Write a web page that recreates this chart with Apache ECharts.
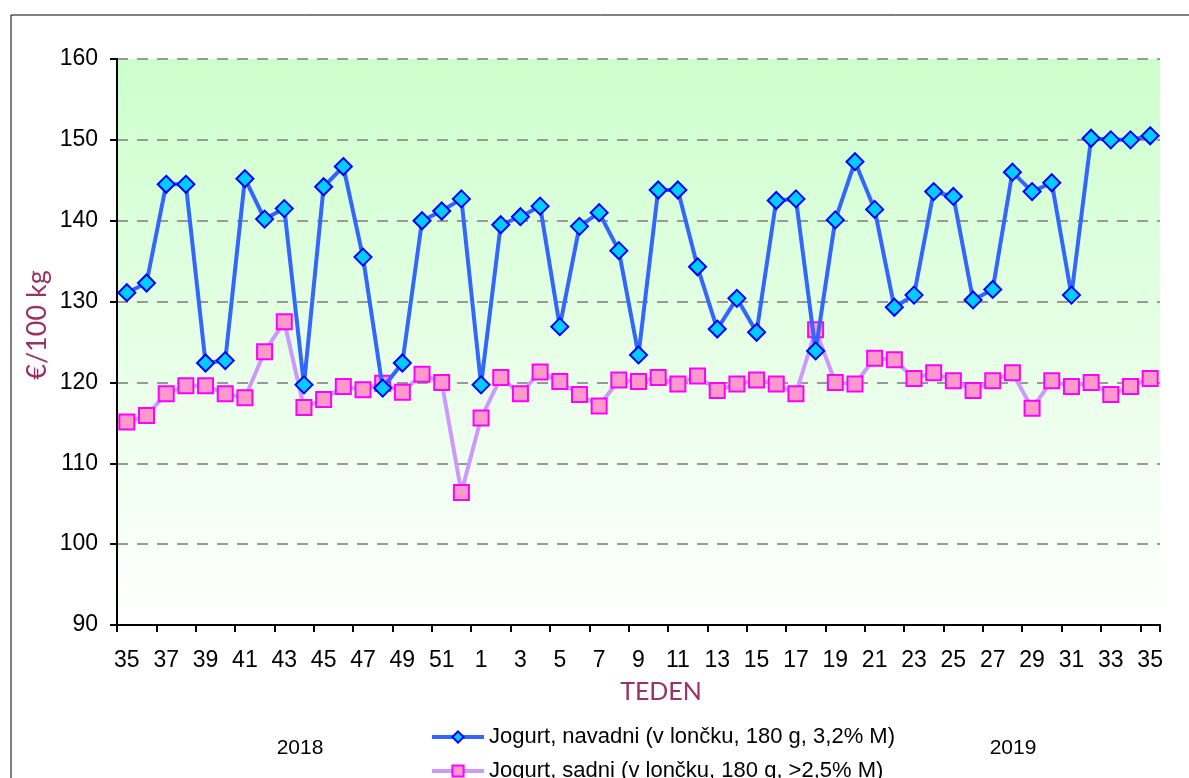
<!DOCTYPE html>
<html>
<head>
<meta charset="utf-8">
<title>Jogurt</title>
<script src="https://cdn.jsdelivr.net/npm/echarts@6/dist/echarts.min.js"></script>
<style>
  html, body { margin: 0; padding: 0; background: #fff; }
  #chart { width: 1189px; height: 778px; }
</style>
</head>
<body>
<div id="chart"></div>
<script>
// tedni: 35-52 (2018), 1-35 (2019)
var weeks2018 = [35, 36, 37, 38, 39, 40, 41, 42, 43, 44, 45, 46, 47, 48, 49, 50, 51, 52];
var weeks2019 = [1, 2, 3, 4, 5, 6, 7, 8, 9, 10, 11, 12, 13, 14, 15, 16, 17, 18, 19, 20,
    21, 22, 23, 24, 25, 26, 27, 28, 29, 30, 31, 32, 33, 34, 35];
var weeks = weeks2018.concat(weeks2019);

var nameNavadni = 'Jogurt, navadni (v lončku, 180 g, 3,2% M)';
var nameSadni = 'Jogurt, sadni (v lončku, 180 g, >2,5% M)';

var navadni = [131.1, 132.3, 144.5, 144.5, 122.4, 122.7, 145.2, 140.2, 141.5, 119.7,
    144.2, 146.7, 135.5, 119.3, 122.4, 140.0, 141.2, 142.7,
    119.7, 139.5, 140.5, 141.8, 126.9, 139.3, 141.0, 136.3, 123.4, 143.8,
    143.8, 134.3, 126.6, 130.4, 126.2, 142.5, 142.7, 123.9, 140.1, 147.3,
    141.4, 129.3, 130.8, 143.6, 143.0, 130.2, 131.5, 146.0, 143.6, 144.7,
    130.8, 150.2, 150.0, 150.0, 150.5];
var sadni = [115.1, 115.9, 118.6, 119.6, 119.6, 118.6, 118.1, 123.8, 127.5, 116.9,
    117.9, 119.5, 119.1, 119.9, 118.8, 121.0, 120.0, 106.4,
    115.6, 120.6, 118.6, 121.3, 120.1, 118.5, 117.1, 120.3, 120.1, 120.6,
    119.8, 120.8, 119.0, 119.8, 120.3, 119.8, 118.6, 126.5, 120.0, 119.8,
    123.0, 122.8, 120.5, 121.2, 120.2, 119.0, 120.2, 121.2, 116.8, 120.2,
    119.5, 120.0, 118.5, 119.5, 120.5];

var yMin = 90, yMax = 160, yStep = 10;

var FONT = '"Liberation Sans", Arial, sans-serif';
var FONT2 = 'Lato, "Open Sans", sans-serif';
var MAROON = '#993366';

var myChart = echarts.init(document.getElementById('chart'), null, {renderer: 'canvas'});

var option = {
    animation: false,
    backgroundColor: '#ffffff',
    grid: {
        left: 117,
        right: 29,
        top: 59,
        bottom: 153,
        show: true,
        borderWidth: 0,
        backgroundColor: {
            type: 'linear', x: 0, y: 0, x2: 0, y2: 1,
            colorStops: [
                {offset: 0, color: '#ccffcc'},
                {offset: 1, color: '#ffffff'}
            ]
        }
    },
    legend: {
        orient: 'vertical',
        left: 430,
        top: 726,
        height: 90,
        padding: 0,
        itemWidth: 52,
        itemHeight: 14,
        itemGap: 12,
        lineStyle: {width: 4},
        textStyle: {
            fontFamily: FONT,
            fontSize: 22,
            color: '#000',
            lineHeight: 22
        },
        data: [nameNavadni, nameSadni]
    },
    xAxis: {
        type: 'category',
        boundaryGap: true,
        data: weeks,
        axisLine: {lineStyle: {color: '#000', width: 2}},
        axisTick: {
            show: true,
            interval: 1,
            length: 7,
            lineStyle: {color: '#000', width: 2}
        },
        axisLabel: {
            interval: 1,
            margin: 24,
            fontFamily: FONT,
            fontSize: 23,
            color: '#000'
        },
        splitLine: {show: false}
    },
    yAxis: {
        type: 'value',
        min: yMin,
        max: yMax,
        interval: yStep,
        axisLine: {show: true, lineStyle: {color: '#000', width: 2}},
        axisTick: {show: true, length: 7, lineStyle: {color: '#000', width: 2}},
        axisLabel: {
            margin: 19,
            fontFamily: FONT,
            fontSize: 23,
            color: '#000'
        },
        splitLine: {
            show: true,
            lineStyle: {color: '#999999', width: 2, type: [11, 9]}
        }
    },
    graphic: [
        {
            type: 'rect',
            shape: {x: 11, y: 15, width: 1300, height: 900},
            style: {fill: 'none', stroke: '#000', lineWidth: 1},
            silent: true
        },
        {
            type: 'text',
            x: 37, y: 325,
            rotation: Math.PI / 2,
            style: {
                text: '€/100 kg',
                fontFamily: FONT2,
                fontSize: 27,
                fill: MAROON,
                align: 'center',
                verticalAlign: 'middle'
            }
        },
        {
            type: 'text',
            x: 661, y: 692,
            style: {
                text: 'TEDEN',
                fontFamily: FONT2,
                fontSize: 25,
                fill: MAROON,
                align: 'center',
                verticalAlign: 'middle'
            }
        },
        {
            type: 'text',
            x: 300, y: 748,
            style: {
                text: '2018',
                fontFamily: FONT,
                fontSize: 21,
                fill: '#000',
                align: 'center',
                verticalAlign: 'middle'
            }
        },
        {
            type: 'text',
            x: 1013, y: 748,
            style: {
                text: '2019',
                fontFamily: FONT,
                fontSize: 21,
                fill: '#000',
                align: 'center',
                verticalAlign: 'middle'
            }
        }
    ],
    series: [
        {
            name: nameSadni,
            type: 'line',
            data: sadni,
            z: 2,
            symbol: 'rect',
            symbolSize: 15,
            showAllSymbol: true,
            lineStyle: {color: '#cc99ff', width: 4},
            itemStyle: {color: '#ff99cc', borderColor: '#ff00ff', borderWidth: 2}
        },
        {
            name: nameNavadni,
            type: 'line',
            data: navadni,
            z: 3,
            symbol: 'diamond',
            symbolSize: 17,
            showAllSymbol: true,
            lineStyle: {color: '#3366ff', width: 4},
            itemStyle: {color: '#00ccff', borderColor: '#0000ff', borderWidth: 2}
        }
    ]
};

myChart.setOption(option);
</script>
</body>
</html>
